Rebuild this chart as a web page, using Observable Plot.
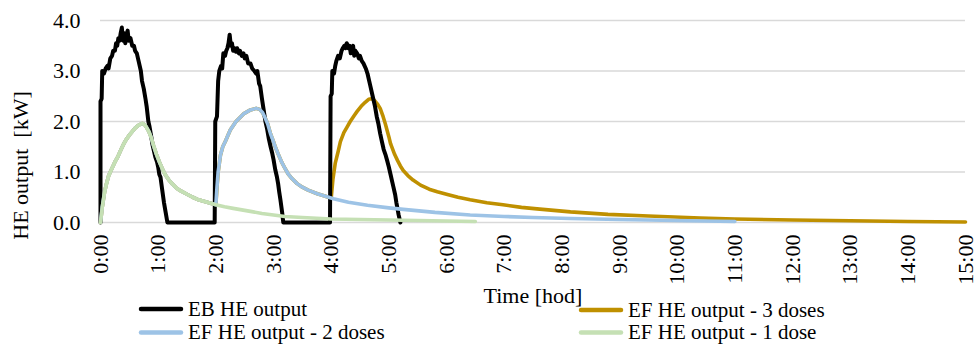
<!DOCTYPE html>
<html>
<head>
<meta charset="utf-8">
<script src="https://cdn.jsdelivr.net/npm/d3@7"></script>
<script src="https://cdn.jsdelivr.net/npm/@observablehq/plot@0.6"></script>
<style>
  html, body { margin: 0; padding: 0; background: #fff; }
  #chart { position: relative; width: 974px; height: 344px; overflow: hidden; }
  #chart svg { display: block; }
</style>
</head>
<body>
<div id="chart"></div>
<script>
// ---- axis ticks ----
const xTicks = [0, 1, 2, 3, 4, 5, 6, 7, 8, 9, 10, 11, 12, 13, 14, 15];
const xTickLabels = ["0:00","1:00","2:00","3:00","4:00","5:00","6:00","7:00","8:00","9:00","10:00","11:00","12:00","13:00","14:00","15:00"];
const yTicks = [0, 1, 2, 3, 4];
const yTickLabels = ["0.0", "1.0", "2.0", "3.0", "4.0"];

// ---- series: [time in hours, output kW] ----
const ebOutput = [
  [0,0],[0.0,2.4],[0.02,2.45],[0.03,3.0],[0.06,2.95],[0.09,3.05],[0.12,3.1],[0.14,3.05],[0.17,3.25],[0.2,3.3],
  [0.22,3.4],[0.25,3.4],[0.27,3.55],[0.29,3.5],[0.31,3.65],[0.33,3.6],[0.35,3.75],[0.37,3.86],[0.39,3.6],[0.41,3.75],
  [0.43,3.55],[0.45,3.7],[0.47,3.8],[0.49,3.6],[0.52,3.65],[0.55,3.5],[0.58,3.5],[0.6,3.4],[0.63,3.35],[0.66,3.2],
  [0.7,3.0],[0.72,2.8],[0.75,2.65],[0.78,2.45],[0.8,2.3],[0.83,2.0],[0.85,1.9],[0.88,1.7],[0.9,1.55],[0.93,1.4],
  [0.95,1.3],[0.98,1.2],[1.0,1.1],[1.02,0.95],[1.04,0.9],[1.07,0.65],[1.1,0.4],[1.13,0.2],[1.16,0],
  [1.98,0],[1.99,2.0],[2.02,2.1],[2.04,2.8],[2.06,3.0],[2.09,3.1],[2.11,3.05],[2.13,3.35],[2.16,3.3],[2.18,3.4],
  [2.2,3.45],[2.22,3.55],[2.24,3.72],[2.26,3.5],[2.28,3.55],[2.3,3.4],[2.33,3.45],[2.35,3.38],[2.37,3.45],[2.4,3.35],
  [2.42,3.4],[2.45,3.3],[2.48,3.35],[2.5,3.25],[2.53,3.3],[2.56,3.15],[2.6,3.15],[2.63,3.05],[2.67,3.0],[2.7,2.95],
  [2.72,3.0],[2.75,2.75],[2.77,2.7],[2.8,2.45],[2.82,2.3],[2.86,2.0],[2.89,1.85],[2.92,1.65],[2.95,1.5],[2.98,1.36],
  [3.0,1.25],[3.03,1.05],[3.06,0.9],[3.08,0.77],[3.1,0.6],[3.12,0.45],[3.15,0.2],[3.17,0],
  [3.98,0],[3.99,2.5],[4.01,2.55],[4.02,3.0],[4.05,2.95],[4.07,3.1],[4.09,3.2],[4.12,3.3],[4.15,3.25],[4.18,3.4],
  [4.2,3.45],[4.23,3.5],[4.25,3.45],[4.27,3.55],[4.3,3.45],[4.32,3.5],[4.34,3.35],[4.36,3.45],[4.38,3.5],[4.4,3.3],
  [4.42,3.4],[4.45,3.35],[4.48,3.25],[4.5,3.3],[4.53,3.2],[4.56,3.15],[4.6,3.05],[4.63,2.95],[4.66,2.8],[4.68,2.7],
  [4.71,2.55],[4.73,2.45],[4.76,2.3],[4.79,2.1],[4.82,1.95],[4.85,1.76],[4.88,1.6],[4.91,1.45],[4.94,1.35],[4.97,1.23],
  [5.0,1.1],[5.03,0.95],[5.06,0.8],[5.08,0.7],[5.11,0.55],[5.13,0.4],[5.17,0.15],[5.2,0]
];

const ef1Dose = [
  [0,0],[0.03,0.3],[0.07,0.6],[0.1,0.75],[0.14,0.92],[0.17,1.0],[0.21,1.1],[0.25,1.2],[0.3,1.3],[0.35,1.43],
  [0.4,1.55],[0.45,1.65],[0.5,1.73],[0.55,1.8],[0.6,1.87],[0.65,1.92],[0.7,1.95],[0.73,1.96],[0.77,1.93],[0.8,1.88],
  [0.84,1.8],[0.88,1.68],[0.92,1.52],[0.97,1.35],[1.02,1.2],[1.07,1.07],[1.12,0.95],[1.18,0.85],[1.24,0.77],[1.32,0.68],
  [1.4,0.62],[1.5,0.56],[1.6,0.5],[1.7,0.45],[1.85,0.4],[2.0,0.35],[2.15,0.31],[2.3,0.28],[2.45,0.25],[2.6,0.22],
  [2.8,0.18],[3.0,0.15],[3.2,0.12],[3.5,0.1],[4.0,0.07],[4.5,0.06],[5.0,0.05],[5.5,0.04],[6.0,0.03],[6.5,0.02]
];

const ef2Doses = [
  [0,0],[0.03,0.3],[0.07,0.6],[0.1,0.75],[0.14,0.92],[0.17,1.0],[0.21,1.1],[0.25,1.2],[0.3,1.3],[0.35,1.43],
  [0.4,1.55],[0.45,1.65],[0.5,1.73],[0.55,1.8],[0.6,1.87],[0.65,1.92],[0.7,1.95],[0.73,1.96],[0.77,1.93],[0.8,1.88],
  [0.84,1.8],[0.88,1.68],[0.92,1.52],[0.97,1.35],[1.02,1.2],[1.07,1.07],[1.12,0.95],[1.18,0.85],[1.24,0.77],[1.32,0.68],
  [1.4,0.62],[1.5,0.56],[1.6,0.5],[1.7,0.45],[1.85,0.4],[2.0,0.35],
  [2.02,0.7],[2.04,1.0],[2.08,1.33],[2.12,1.5],[2.17,1.62],[2.25,1.83],[2.35,2.0],[2.48,2.15],[2.6,2.23],[2.7,2.26],
  [2.76,2.24],[2.81,2.18],[2.86,2.06],[2.9,1.95],[2.95,1.75],[3.0,1.6],[3.03,1.5],[3.08,1.36],[3.14,1.2],[3.2,1.07],
  [3.25,0.97],[3.32,0.87],[3.41,0.77],[3.5,0.7],[3.6,0.64],[3.76,0.57],[3.9,0.52],[4.04,0.47],[4.3,0.4],[4.63,0.34],
  [5.0,0.29],[5.25,0.26],[5.8,0.2],[6.41,0.15],[7.0,0.12],[7.5,0.1],[8.15,0.08],[9.0,0.06],[9.5,0.05],[10.2,0.035],[11.0,0.02]
];

const ef3Doses = [
  [0,0],[0.03,0.3],[0.07,0.6],[0.1,0.75],[0.14,0.92],[0.17,1.0],[0.21,1.1],[0.25,1.2],[0.3,1.3],[0.35,1.43],
  [0.4,1.55],[0.45,1.65],[0.5,1.73],[0.55,1.8],[0.6,1.87],[0.65,1.92],[0.7,1.95],[0.73,1.96],[0.77,1.93],[0.8,1.88],
  [0.84,1.8],[0.88,1.68],[0.92,1.52],[0.97,1.35],[1.02,1.2],[1.07,1.07],[1.12,0.95],[1.18,0.85],[1.24,0.77],[1.32,0.68],
  [1.4,0.62],[1.5,0.56],[1.6,0.5],[1.7,0.45],[1.85,0.4],[2.0,0.35],
  [2.02,0.7],[2.04,1.0],[2.08,1.33],[2.12,1.5],[2.17,1.62],[2.25,1.83],[2.35,2.0],[2.48,2.15],[2.6,2.23],[2.7,2.26],
  [2.76,2.24],[2.81,2.18],[2.86,2.06],[2.9,1.95],[2.95,1.75],[3.0,1.6],[3.03,1.5],[3.08,1.36],[3.14,1.2],[3.2,1.07],
  [3.25,0.97],[3.32,0.87],[3.41,0.77],[3.5,0.7],[3.6,0.64],[3.76,0.57],[3.9,0.52],[4.0,0.48],
  [4.03,0.85],[4.07,1.17],[4.12,1.4],[4.16,1.6],[4.22,1.78],[4.28,1.9],[4.33,2.0],[4.4,2.12],[4.45,2.2],[4.52,2.3],
  [4.59,2.38],[4.65,2.44],[4.7,2.45],[4.75,2.42],[4.8,2.35],[4.85,2.26],[4.9,2.1],[4.94,1.95],[5.0,1.7],[5.03,1.56],
  [5.1,1.35],[5.15,1.23],[5.2,1.12],[5.25,1.03],[5.33,0.93],[5.42,0.84],[5.55,0.74],[5.7,0.66],[5.84,0.61],[6.0,0.56],
  [6.2,0.5],[6.41,0.45],[6.7,0.39],[6.98,0.35],[7.3,0.3],[7.57,0.27],[8.15,0.21],[8.8,0.16],[9.5,0.13],[10.4,0.09],
  [11.0,0.07],[12.0,0.05],[13.0,0.035],[14.0,0.02],[15.0,0.01]
];

// ---- legend ----
const legendLabels = ["EB HE output", "EF HE output - 3 doses", "EF HE output - 2 doses", "EF HE output - 1 dose"];
const legendColors = ["#000000", "#BF9000", "#9DC3E6", "#C5E0B4"];
const yTitle = "HE output  [kW]";
const xTitle = "Time [hod]";

const W = 974, H = 306;
const FONT = "Liberation Serif";
const lineOpts = { x: d => d[0], y: d => d[1], strokeLinejoin: "round", strokeLinecap: "round", curve: "linear" };

const chart = Plot.plot({
  width: W,
  height: H,
  marginLeft: 100,
  marginRight: 9,
  marginTop: 20,
  marginBottom: H - 222,
  x: { domain: [0, 15] },
  y: { domain: [0, 4] },
  style: { fontSize: "22px", color: "#000", background: "#fff", overflow: "visible" },
  marks: [
    Plot.ruleY(yTicks, { stroke: "#d9d9d9", strokeWidth: 1.3 }),
    Plot.line(ef3Doses, { ...lineOpts, stroke: legendColors[1], strokeWidth: 3.6 }),
    Plot.line(ebOutput, { ...lineOpts, stroke: legendColors[0], strokeWidth: 4 }),
    Plot.line(ef2Doses, { ...lineOpts, stroke: legendColors[2], strokeWidth: 3.6 }),
    Plot.line(ef1Dose, { ...lineOpts, stroke: legendColors[3], strokeWidth: 3.6 }),
    Plot.axisY({
      ticks: yTicks,
      tickFormat: d => yTickLabels[yTicks.indexOf(d)],
      tickSize: 0,
      tickPadding: 20,
      fontSize: 22,
      label: null
    }),
    Plot.text([yTitle], { text: d => d, frameAnchor: "left", textAnchor: "middle", rotate: -90, dx: -80, dy: 44, fontSize: 22, fontFamily: FONT, fill: "#000" }),
    Plot.axisX({
      ticks: xTicks,
      tickFormat: d => xTickLabels[xTicks.indexOf(d)],
      tickSize: 0,
      tickPadding: 12,
      tickRotate: -90,
      fontSize: 22,
      label: xTitle,
      labelAnchor: "center",
      labelArrow: "none",
      labelOffset: 80
    })
  ]
});

// serif family as an SVG presentation attribute on every group / text
chart.setAttribute("font-family", FONT);
d3.select(chart).selectAll("g, text").attr("font-family", FONT);

const root = document.getElementById("chart");
root.appendChild(chart);

// ---- legend, drawn as a small SVG below the plot ----
const legendSvg = d3.create("svg")
  .attr("width", W)
  .attr("height", 49)
  .attr("font-family", FONT)
  .attr("font-size", 21)
  .style("position", "absolute")
  .style("left", "0px")
  .style("top", "295px");

const legendPos = [
  { x: 139, y: 14 },
  { x: 579, y: 15 },
  { x: 139, y: 37.5 },
  { x: 579, y: 37.5 }
];
const item = legendSvg.selectAll("g").data(legendLabels).join("g")
  .attr("transform", (d, i) => `translate(${legendPos[i].x},${legendPos[i].y})`);
item.append("line")
  .attr("x1", 2).attr("x2", 42).attr("y1", 0).attr("y2", 0)
  .attr("stroke", (d, i) => legendColors[i])
  .attr("stroke-width", 4.5)
  .attr("stroke-linecap", "round");
item.append("text")
  .attr("x", 49)
  .attr("y", 0)
  .attr("dy", "0.33em")
  .attr("fill", "#000")
  .attr("font-family", FONT)
  .text(d => d);
root.appendChild(legendSvg.node());
</script>
</body>
</html>
